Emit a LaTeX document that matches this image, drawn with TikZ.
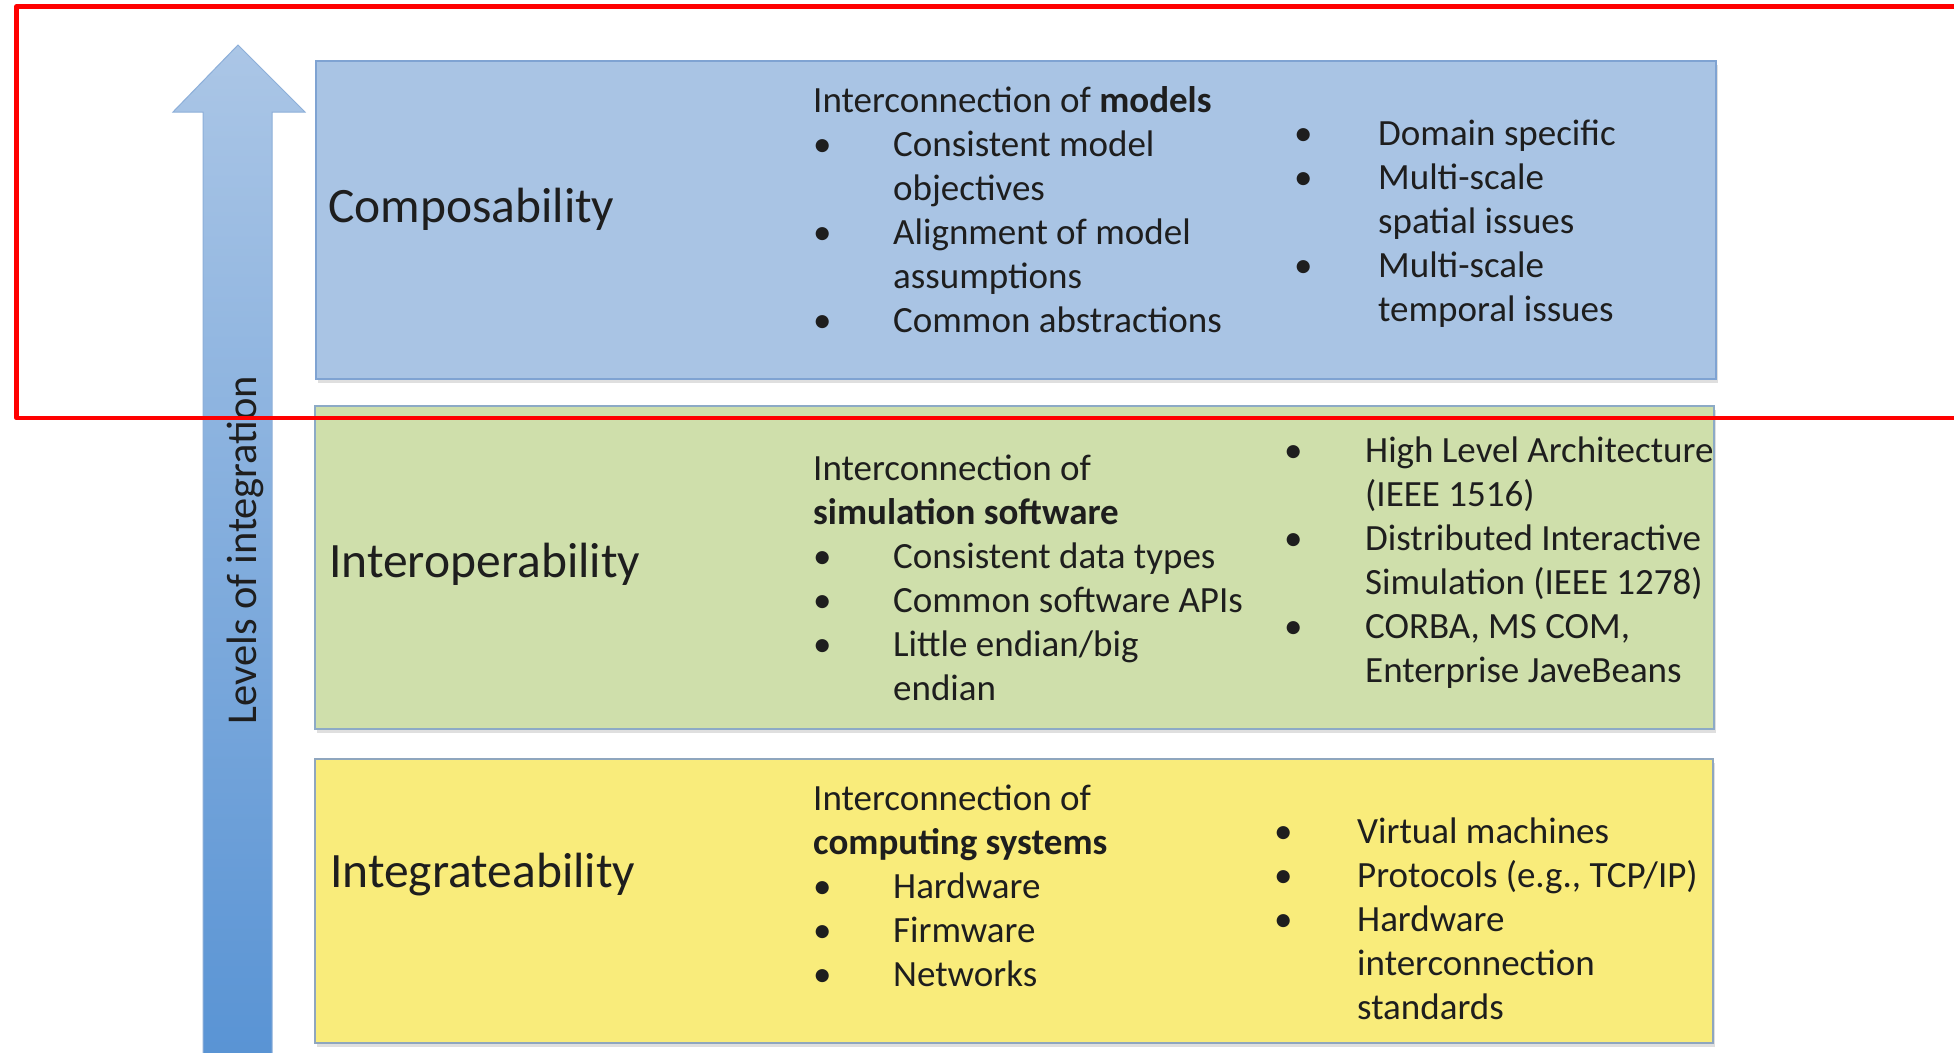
\documentclass[tikz,border=0pt]{standalone}
\usepackage{fontspec}
\setmainfont{Carlito}
\usepackage{array}
\usetikzlibrary{shadows}
\definecolor{compfill}{HTML}{A9C4E4}
\definecolor{compdraw}{HTML}{7FA3D2}
\definecolor{interfill}{HTML}{CFDFAB}
\definecolor{interdraw}{HTML}{8CAAC6}
\definecolor{integfill}{HTML}{F9EC7B}
\definecolor{integdraw}{HTML}{8FA6BE}
\definecolor{arrowtop}{HTML}{ABC6E6}
\definecolor{arrowbot}{HTML}{5893D4}
\definecolor{arrowedge}{HTML}{8DAFD9}
\definecolor{inktext}{HTML}{1E1E1E}
\definecolor{markred}{HTML}{FF0000}
\newcommand{\bodysize}{\fontsize{37}{44}\selectfont}
\tikzset{
  levelbox/.style={rectangle, line width=2, anchor=north west, inner sep=0,
    drop shadow={opacity=0.25, shadow xshift=2pt, shadow yshift=-4pt}},
  leveltitle/.style={anchor=base west, inner sep=0,
    font=\fontsize{49.5}{59}\selectfont, text=inktext},
  listcol/.style={anchor=base west, inner sep=0, font=\bodysize, text=inktext},
  uparrow/.style={top color=arrowtop, bottom color=arrowbot, draw=arrowedge, line width=1},
  redmark/.style={draw=markred, line width=4.5, line join=round}
}
\begin{document}
\begin{tikzpicture}[x=1pt,y=-1pt]
\path[use as bounding box, clip] (0,0) rectangle (1954,1052);
\fill[white] (0,0) rectangle (1954,1052);

% level boxes
\node[levelbox, fill=integfill, draw=integdraw, minimum width=1398, minimum height=284] (integ) at (314,758) {};
\node[levelbox, fill=interfill, draw=interdraw, minimum width=1399, minimum height=323] (inter) at (314,405) {};
\node[levelbox, fill=compfill, draw=compdraw, minimum width=1400, minimum height=318] (comp) at (315,60) {};

% arrow
\path[uparrow] (238,45) -- (305,112) -- (272,112) -- (272,1070) -- (203,1070) -- (203,112) -- (173,112) -- cycle;
\node[rotate=90, anchor=base, inner sep=0, font=\fontsize{42.5}{50}\selectfont, text=inktext] (levels) at (256,550) {Levels of integration};

% titles
\node[leveltitle] (tcomp) at (328,222) {Composability};
\node[leveltitle] (tinter) at (329,577) {Interoperability};
\node[leveltitle] (tinteg) at (330,887) {Integrateability};

% composability columns
\node[listcol] (cmid) at (813,112) {\begin{tabular}[t]{@{}p{80pt}@{}l@{}}
\multicolumn{2}{@{}l@{}}{Interconnection of \textbf{models}}\\
\textbullet & Consistent model\\
 & objectives\\
\textbullet & Alignment of model\\
 & assumptions\\
\textbullet & Common abstractions
\end{tabular}};
\node[listcol] (cright) at (1294,145) {\begin{tabular}[t]{@{}p{84pt}@{}l@{}}
\textbullet & Domain specific\\
\textbullet & Multi-scale\\
 & spatial issues\\
\textbullet & Multi-scale\\
 & temporal issues
\end{tabular}};

% interoperability columns
\node[listcol] (imid) at (813,480) {\begin{tabular}[t]{@{}p{80pt}@{}l@{}}
\multicolumn{2}{@{}l@{}}{Interconnection of}\\
\multicolumn{2}{@{}l@{}}{\textbf{simulation software}}\\
\textbullet & Consistent data types\\
\textbullet & Common software APIs\\
\textbullet & Little endian/big\\
 & endian
\end{tabular}};
\node[listcol] (iright) at (1284,462) {\begin{tabular}[t]{@{}p{81pt}@{}l@{}}
\textbullet & High Level Architecture\\
 & (IEEE 1516)\\
\textbullet & Distributed Interactive\\
 & Simulation (IEEE 1278)\\
\textbullet & CORBA, MS COM,\\
 & Enterprise JaveBeans
\end{tabular}};

% integrateability columns
\node[listcol] (gmid) at (813,810) {\begin{tabular}[t]{@{}p{80pt}@{}l@{}}
\multicolumn{2}{@{}l@{}}{Interconnection of}\\
\multicolumn{2}{@{}l@{}}{\textbf{computing systems}}\\
\textbullet & Hardware\\
\textbullet & Firmware\\
\textbullet & Networks
\end{tabular}};
\node[listcol] (gright) at (1274,843) {\begin{tabular}[t]{@{}p{83pt}@{}l@{}}
\textbullet & Virtual machines\\
\textbullet & Protocols (e.g., TCP/IP)\\
\textbullet & Hardware\\
 & interconnection\\
 & standards
\end{tabular}};

% red highlight frame
\draw[redmark] (16.5,6.5) rectangle (1985,418);
\end{tikzpicture}
\end{document}
